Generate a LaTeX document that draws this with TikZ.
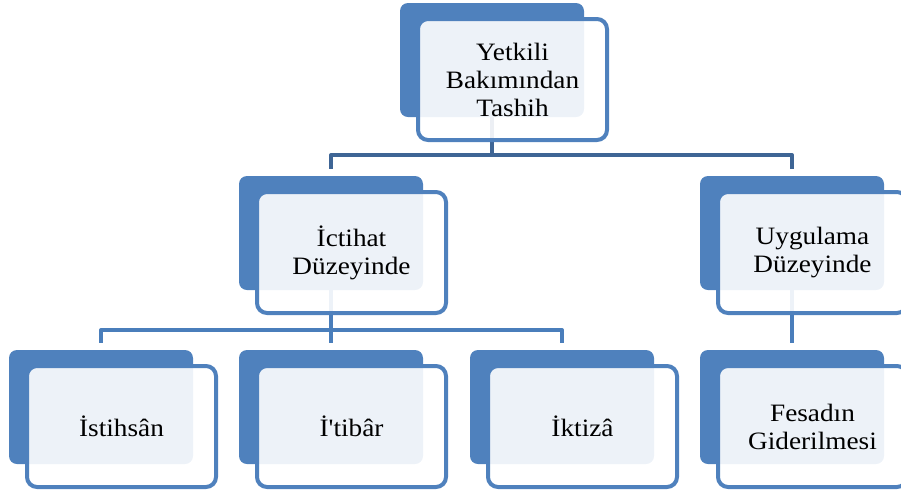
\documentclass[tikz,border=0pt]{standalone}
\usepackage{fontspec}
\setmainfont{Liberation Serif}[FakeStretch=1.09, Ligatures=TeXOff]
\definecolor{boxblue}{HTML}{4F81BD}
\definecolor{connA}{HTML}{3E6595}
\definecolor{connB}{HTML}{4A7EBB}
\begin{document}
\begin{tikzpicture}[x=0.75pt,y=-0.75pt,
  backbox/.style={draw=none,fill=boxblue,rounded corners=6pt,anchor=north west,
    minimum width=138pt,minimum height=85.5pt,inner sep=0pt,outer sep=0pt},
  frontbox/.style={draw=boxblue,line width=3pt,fill=white,fill opacity=0.9,text opacity=1,
    rounded corners=7.5pt,anchor=north west,minimum width=141.75pt,minimum height=90.75pt,
    inner sep=0pt,outer sep=0pt,align=center,
    font=\fontsize{18.75pt}{21pt}\selectfont},
  connone/.style={draw=connA,line width=3pt,line join=round,shorten >=5.25pt},
  conntwo/.style={draw=connB,line width=3pt,line join=round,shorten >=5.25pt}]
\useasboundingbox (0,0) rectangle (901,494);
\clip (0,0) rectangle (901,494);
% back boxes
\node[backbox] (tb) at (400,3) {};
\node[backbox] (ib) at (239,176) {};
\node[backbox] (ub) at (700,176) {};
\node[backbox] (sb) at (9,350) {};
\node[backbox] (rb) at (239,350) {};
\node[backbox] (kb) at (470,350) {};
\node[backbox] (fb) at (700,350) {};
% connectors
\draw[connone] (tb.south) -- ++(0,38) -| (ib.north);
\draw[connone] (tb.south) -- ++(0,38) -| (ub.north);
\draw[conntwo] (ib.south) -- ++(0,40) -| (sb.north);
\draw[conntwo] (ib.south) -- (rb.north);
\draw[conntwo] (ib.south) -- ++(0,40) -| (kb.north);
\draw[conntwo] (ub.south) -- (fb.north);
% front boxes
\node[frontbox] (t) at (418,19) {Yetkili\\Bakımından\\Tashih};
\node[frontbox] (i) at (257,192) {İctihat\\Düzeyinde};
\node[frontbox] (u) at (718,192) {Uygulama\\Düzeyinde};
\node[frontbox] (s) at (27,366) {İstihsân};
\node[frontbox] (r) at (257,366) {İ'tibâr};
\node[frontbox] (k) at (488,366) {İktizâ};
\node[frontbox] (f) at (718,366) {Fesadın\\Giderilmesi};
\end{tikzpicture}
\end{document}
